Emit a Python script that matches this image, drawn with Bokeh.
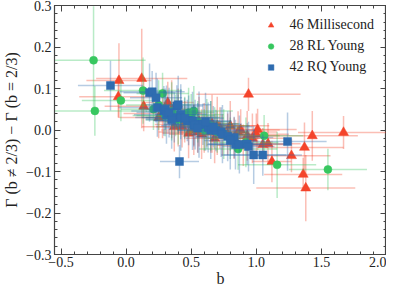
from bokeh.plotting import figure
from bokeh.models import ColumnDataSource, LinearAxis, Legend, LegendItem, FixedTicker
from bokeh.embed import file_html
from bokeh.resources import INLINE

# ---- data ----
msp_b = [-0.055, -0.06, 0.12, 0.135, 0.32, 0.37, 0.43, 0.48, 0.52, 0.52, 0.78, 0.86, 0.93, 0.94,
         1.01, 1.05, 1.09, 0.83, 0.90, 1.12, 1.27, 1.36, 1.38, 1.37, 1.43, 1.67, 0.60, 0.65, 0.70,
         0.74, 0.56, 0.62, 0.28, 0.40, 0.45, 0.68, 0.88, 0.97, 0.35, 0.25, 0.58, 0.72, 0.80, 1.00,
         0.66, 0.55]
msp_g = [0.119, 0.080, 0.124, 0.057, 0.066, 0.008, 0.008, -0.008, 0.013, 0.000, -0.010, -0.005,
         -0.014, 0.086, 0.001, -0.035, -0.033, -0.020, -0.037, -0.076, -0.062, -0.107, -0.140,
         -0.042, -0.014, -0.006, 0.005, -0.005, 0.010, -0.012, 0.020, 0.010, 0.040, 0.030, 0.020,
         -0.020, 0.000, -0.020, 0.050, 0.030, -0.010, 0.005, 0.010, -0.010, 0.015, -0.005]
msp_xerr = [0.25, 0.30, 0.35, 0.30, 0.20, 0.25, 0.20, 0.20, 0.30, 0.25, 0.30, 0.30, 0.25, 0.40,
            0.30, 0.20, 0.25, 0.20, 0.20, 0.15, 0.30, 0.30, 0.38, 0.30, 0.35, 0.35, 0.20, 0.25,
            0.30, 0.22, 0.18, 0.28, 0.30, 0.25, 0.20, 0.22, 0.30, 0.25, 0.20, 0.30, 0.25, 0.20,
            0.30, 0.25, 0.20, 0.30]
msp_yerr = [0.09, 0.05, 0.12, 0.06, 0.05, 0.06, 0.05, 0.06, 0.05, 0.06, 0.05, 0.05, 0.06, 0.04,
            0.05, 0.04, 0.05, 0.05, 0.05, 0.05, 0.04, 0.04, 0.08, 0.06, 0.06, 0.04, 0.06, 0.05,
            0.07, 0.05, 0.06, 0.05, 0.06, 0.07, 0.05, 0.06, 0.05, 0.06, 0.07, 0.05, 0.06, 0.05,
            0.06, 0.05, 0.07, 0.05]

rl_b = [-0.25, -0.24, -0.04, 0.13, 0.28, 0.21, 0.30, 0.48, 0.50, 0.52, 0.60, 0.86, 1.06, 1.16,
        1.55, 0.40, 0.35, 0.55, 0.65, 0.70, 0.75, 0.45, 0.62, 0.80, 0.25, 0.38, 0.92, 0.68]
rl_g = [0.168, 0.046, 0.071, 0.095, 0.088, 0.050, 0.035, 0.042, 0.037, 0.046, 0.000, -0.046,
        -0.014, -0.084, -0.095, 0.025, 0.045, 0.020, 0.010, -0.005, -0.010, 0.030, 0.015, -0.020,
        0.060, 0.035, -0.030, 0.005]
rl_xerr = [0.40, 0.40, 0.30, 0.30, 0.20, 0.25, 0.25, 0.20, 0.25, 0.30, 0.20, 0.30, 0.30, 0.30,
           0.30, 0.25, 0.20, 0.25, 0.30, 0.25, 0.20, 0.30, 0.25, 0.20, 0.25, 0.30, 0.25, 0.20]
rl_yerr = [0.13, 0.06, 0.05, 0.08, 0.05, 0.05, 0.05, 0.06, 0.05, 0.06, 0.05, 0.05, 0.05, 0.08,
           0.05, 0.06, 0.07, 0.05, 0.06, 0.05, 0.06, 0.05, 0.06, 0.05, 0.06, 0.05, 0.06, 0.05]

rq_b = [-0.12, 0.18, 0.20, 0.23, 0.24, 0.29, 0.30, 0.31, 0.37, 0.39, 0.40, 0.42, 0.42, 0.47,
        0.48, 0.51, 0.52, 0.53, 0.56, 0.59, 0.63, 0.65, 0.69, 0.73, 0.74, 0.83, 0.84, 0.87, 0.93,
        0.94, 0.98, 1.05, 1.24, 0.41, 0.33, 0.35, 0.45, 0.55, 0.61, 0.67, 0.78, 0.80]
rq_g = [0.107, 0.090, 0.092, 0.078, 0.054, 0.046, 0.050, 0.037, 0.030, 0.058, 0.061, 0.038,
        0.030, 0.023, 0.023, 0.022, 0.010, 0.013, 0.013, 0.014, 0.006, 0.000, -0.001, -0.005,
        -0.010, -0.018, -0.035, -0.035, -0.034, -0.040, -0.060, -0.060, -0.028, -0.076, 0.042,
        0.025, 0.028, 0.005, 0.020, 0.008, -0.015, -0.025]
rq_xerr = [0.25, 0.20, 0.25, 0.20, 0.30, 0.25, 0.20, 0.25, 0.30, 0.20, 0.25, 0.20, 0.30, 0.25,
           0.20, 0.30, 0.25, 0.20, 0.25, 0.30, 0.20, 0.25, 0.30, 0.20, 0.25, 0.30, 0.20, 0.25,
           0.30, 0.20, 0.25, 0.30, 0.30, 0.15, 0.25, 0.20, 0.30, 0.25, 0.20, 0.30, 0.25, 0.20]
rq_yerr = [0.06, 0.07, 0.05, 0.06, 0.07, 0.06, 0.05, 0.07, 0.06, 0.05, 0.07, 0.06, 0.08, 0.05,
           0.06, 0.07, 0.05, 0.06, 0.08, 0.05, 0.06, 0.07, 0.05, 0.06, 0.07, 0.05, 0.06, 0.07,
           0.05, 0.06, 0.07, 0.05, 0.07, 0.04, 0.06, 0.07, 0.05, 0.06, 0.07, 0.05, 0.06, 0.07]

labels = ["46 Millisecond", "28 RL Young", "42 RQ Young"]
colors = ["#f4442b", "#37c75f", "#2f6cb0"]
markers = ["triangle", "circle", "square"]
sizes = [10, 8, 8]

xticks = [-0.5, 0.0, 0.5, 1.0, 1.5, 2.0]
xtick_labels = ["−0.5", "0.0", "0.5", "1.0", "1.5", "2.0"]
yticks = [-0.3, -0.2, -0.1, 0.0, 0.1, 0.2, 0.3]
ytick_labels = ["−0.3", "−0.2", "−0.1", "0.0", "0.1", "0.2", "0.3"]

FONT = "Liberation Serif"

p = figure(width=386, height=289, x_range=(-0.55, 2.0), y_range=(-0.3, 0.3),
           output_backend="svg", toolbar_location=None,
           min_border_left=46, min_border_right=0, min_border_top=5, min_border_bottom=0)
p.grid.visible = False
p.outline_line_color = "#444444"
p.outline_line_width = 1.2

groups = [(msp_b, msp_g, msp_xerr, msp_yerr), (rl_b, rl_g, rl_xerr, rl_yerr),
          (rq_b, rq_g, rq_xerr, rq_yerr)]
items = []
for (b, g, xe, ye), lab, col, mk, sz in zip(groups, labels, colors, markers, sizes):
    src = ColumnDataSource(dict(
        b=b, g=g,
        xlo=[v - e for v, e in zip(b, xe)], xhi=[v + e for v, e in zip(b, xe)],
        ylo=[v - e for v, e in zip(g, ye)], yhi=[v + e for v, e in zip(g, ye)]))
    p.segment(x0="xlo", y0="g", x1="xhi", y1="g", source=src, line_color=col,
              line_alpha=0.35, line_width=1.5)
    p.segment(x0="b", y0="ylo", x1="b", y1="yhi", source=src, line_color=col,
              line_alpha=0.35, line_width=1.5)
    r = p.scatter(x="b", y="g", source=src, marker=mk, size=sz, fill_color=col,
                  line_color=col, line_width=0.5)
    items.append(LegendItem(label=lab, renderers=[r]))

legend = Legend(items=items, location="top_right", background_fill_alpha=0,
                border_line_alpha=0, label_text_font=FONT, label_text_font_size="14px",
                label_text_color="#222222", glyph_width=14, glyph_height=14,
                spacing=5, padding=4, margin=8, label_standoff=12)
p.add_layout(legend)

xminor = [round(-0.5 + 0.1 * i, 2) for i in range(26)]
yminor = [round(-0.3 + 0.02 * i, 2) for i in range(31)]

def style(ax, ticks, minor, tlabels, show):
    ax.ticker = FixedTicker(ticks=ticks, minor_ticks=minor)
    ax.major_tick_in = 6
    ax.major_tick_out = 0
    ax.minor_tick_in = 3
    ax.minor_tick_out = 0
    ax.axis_line_color = "#444444"
    ax.major_tick_line_color = "#444444"
    ax.minor_tick_line_color = "#444444"
    ax.major_label_text_font = FONT
    ax.major_label_text_font_size = "14px"
    ax.major_label_text_color = "#222222"
    ax.axis_label_text_font = FONT
    ax.axis_label_text_font_style = "normal"
    ax.axis_label_text_font_size = "16px"
    ax.axis_label_text_color = "#222222"
    if show:
        ax.major_label_overrides = dict(zip(ticks, tlabels))
        ax.major_label_standoff = 3
    else:
        ax.major_label_overrides = {t: "" for t in ticks}
        ax.major_label_standoff = 0

style(p.xaxis[0], xticks, xminor, xtick_labels, True)
style(p.yaxis[0], yticks, yminor, ytick_labels, True)
p.xaxis[0].axis_label = "b"
p.xaxis[0].axis_label_standoff = 0
p.xaxis[0].major_label_standoff = 2
p.yaxis[0].axis_label = "Γ (b ≠ 2/3) − Γ (b = 2/3)"
p.yaxis[0].axis_label_standoff = 3

top = LinearAxis()
right = LinearAxis()
style(top, xticks, xminor, xtick_labels, False)
style(right, yticks, yminor, ytick_labels, False)
p.add_layout(top, "above")
p.add_layout(right, "right")

open("out.html", "w").write(file_html(p, INLINE))
